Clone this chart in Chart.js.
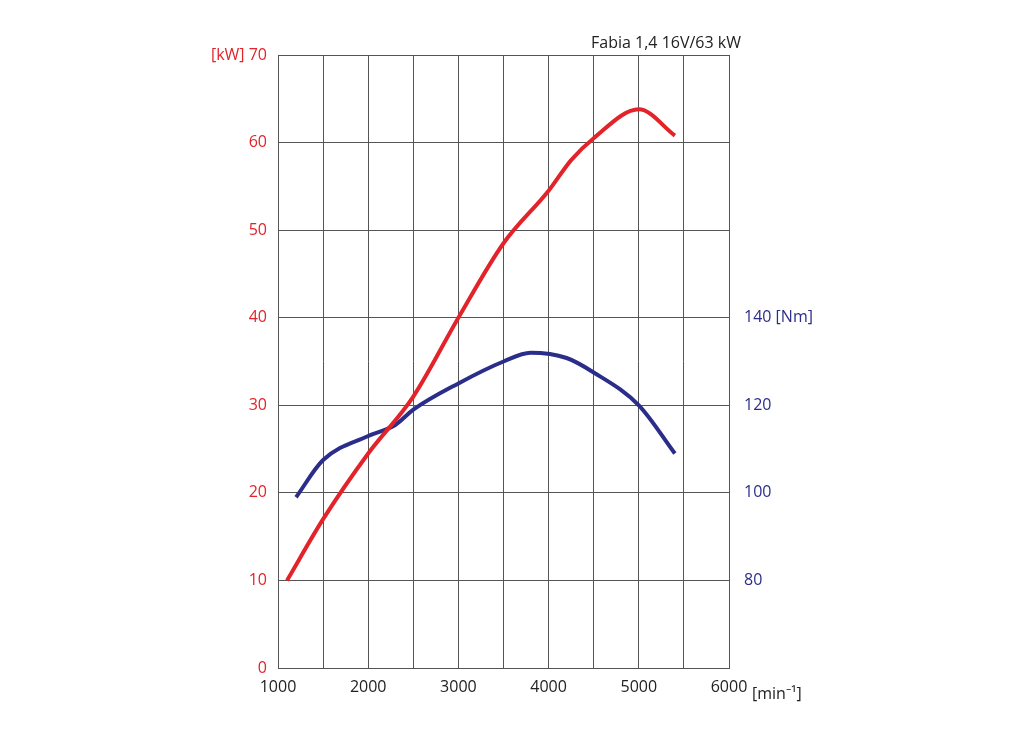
<!DOCTYPE html>
<html><head><meta charset="utf-8">
<script src="https://cdn.jsdelivr.net/npm/chart.js@4/dist/chart.umd.min.js"></script>
<style>html,body{margin:0;background:#fff}#w{width:1024px;height:740px}</style>
</head><body><div id="w"><canvas id="c"></canvas></div>
<script>
const title = "Fabia 1,4 16V/63 kW";
const powerRpm = [1100,1500,2000,2500,3000,3500,4000,4250,4500,5000,5400];
const powerKw  = [10,17,24.5,31,40,48.5,54.5,58,60.5,63.8,60.8];
const torqueRpm = [1200,1500,2000,2300,2500,3000,3500,3800,4200,4500,5000,5400];
const torqueNm  = [99,107.5,113,115.5,119,125,130,132,130.8,127.5,120,109];
const RED = '#e3232a', BLUE = '#2b2d8a';
const font = {family:'"Open Sans", sans-serif', size:16};
const labels = {
  id:'labels',
  afterDraw(c){
    const g=c.ctx, a=c.chartArea;
    g.save(); g.font='16px "Open Sans", sans-serif'; g.textBaseline='middle';
    g.fillStyle='#222'; g.textAlign='right'; g.fillText(title, a.right+12, 43);
    g.textAlign='left'; g.fillText('[min\u207B\u00B9]', 752, 694);
    g.restore();
  }
};
new Chart(document.getElementById('c'), {
  type:'line',
  data:{datasets:[
    {data:powerRpm.map((x,i)=>({x,y:powerKw[i]})), borderColor:RED, yAxisID:'y', borderWidth:4, pointRadius:0, cubicInterpolationMode:'monotone'},
    {data:torqueRpm.map((x,i)=>({x,y:torqueNm[i]})), borderColor:BLUE, yAxisID:'y2', borderWidth:4, pointRadius:0, cubicInterpolationMode:'monotone'}
  ]},
  options:{
    responsive:true, maintainAspectRatio:false, animation:false,
    layout:{padding:{top:55,left:0,right:0,bottom:0}},
    plugins:{legend:{display:false}, tooltip:{enabled:false}},
    scales:{
      x:{type:'linear', min:1000, max:6000,
        afterFit(s){s.height=72;},
        grid:{color:'#555', drawTicks:false}, border:{color:'#555'},
        ticks:{stepSize:500, padding:10, color:'#222', font, autoSkip:false, maxRotation:0,
          callback:v=> v%1000===0 ? String(v) : ''}},
      y:{min:0, max:70, position:'left',
        afterFit(s){s.width=278;},
        grid:{color:'#555', drawTicks:false}, border:{color:'#555'},
        ticks:{stepSize:10, padding:11, color:RED, font,
          callback:v=> v===70 ? '[kW] 70' : String(v)}},
      y2:{min:60, max:200, position:'right',
        afterFit(s){s.width=295;},
        grid:{display:false, drawTicks:false}, border:{color:'#555'},
        ticks:{stepSize:20, padding:15, color:BLUE, font,
          callback:v=> (v>=80&&v<=140) ? (v===140?'140 [Nm]':String(v)) : ''}}
    }
  },
  plugins:[labels]
});
</script></body></html>
